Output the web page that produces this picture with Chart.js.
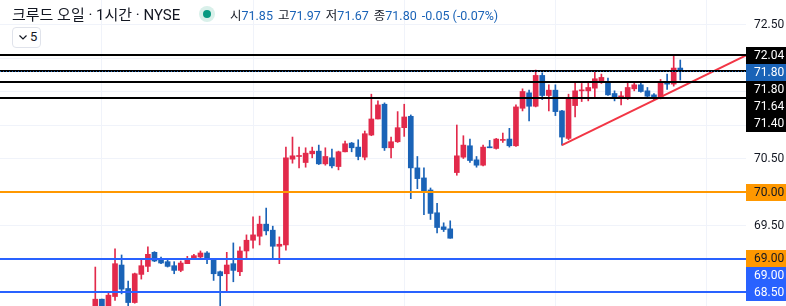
<!DOCTYPE html>
<html>
<head>
<meta charset="utf-8">
<script src="https://cdn.jsdelivr.net/npm/chart.js@4.4.1/dist/chart.umd.min.js"></script>
<style>
  html, body { margin: 0; padding: 0; background: #fff; }
  #wrap { position: relative; width: 786px; height: 306px; overflow: hidden; }
  canvas { display: block; }
  .hdr { position: absolute; top: 4px; white-space: nowrap; color: #131722; font-family: Roboto, 'Noto Sans CJK KR', sans-serif; }
  .title { left: 12px; top: 3px; font-size: 15px; }
  .dot { position: absolute; left: 199px; top: 6px; width: 16px; height: 16px; border-radius: 50%; background: #d9f0ea; }
  .dot::after { content: ''; position: absolute; left: 4px; top: 4px; width: 8px; height: 8px; border-radius: 50%; background: #089981; }
  .vals { left: 230px; top: 5px; font-size: 12.5px; }
  .vals b { font-weight: normal; color: #1a63b7; margin-right: 5px; }
  .intv { position: absolute; left: 12px; top: 27px; width: 27px; height: 19px; border: 1px solid #e0e3eb; border-radius: 4px; background: #fff; font: 13px Roboto, sans-serif; color: #131722; }
  .intv svg { position: absolute; left: 6px; top: 7px; }
  .intv span { position: absolute; left: 17px; top: 1px; }
</style>
</head>
<body>
<div id="wrap">
  <canvas id="c" width="786" height="306"></canvas>
  <div class="hdr title">크루드 오일 · 1시간 · NYSE</div>
  <div class="dot"></div>
  <div class="hdr vals">시<b>71.85</b>고<b>71.97</b>저<b>71.67</b>종<b>71.80</b><b>-0.05 (-0.07%)</b></div>
  <div class="intv"><svg width="8" height="5"><polyline points="0.5,0.5 4,4 7.5,0.5" fill="none" stroke="#131722" stroke-width="1.2"/></svg><span>5</span></div>
</div>
<script>
// hourly candles, oldest first
const opens  = [68.25, 68.40, 68.30, 68.44, 68.91, 68.56, 68.35, 68.77, 68.89, 69.10,
                69.00, 68.96, 68.90, 68.83, 68.93, 69.00, 69.03, 69.09, 69.00, 68.81,
                68.78, 68.93, 68.81, 69.12, 69.28, 69.34, 69.52, 69.43, 69.19, 69.21,
                70.49, 70.53, 70.44, 70.57, 70.61, 70.42, 70.51, 70.38, 70.60, 70.73,
                70.67, 70.52, 70.85, 71.09, 71.31, 70.66, 70.75, 70.96, 71.13, 70.36,
                70.21, 70.03, 69.69, 69.48, 69.45, 70.29, 70.52, 70.69, 70.48, 70.40,
                70.67, 70.65, 70.77, 70.79, 70.69, 71.25, 71.48, 71.28, 71.74, 71.44,
                71.52, 71.21, 70.80, 71.29, 71.51, 71.51, 71.55, 71.66, 71.64, 71.47,
                71.42, 71.42, 71.54, 71.60, 71.51, 71.45, 71.40, 71.65, 71.61, 71.85];
const highs  = [68.88, 68.40, 68.50, 69.15, 69.06, 68.67, 68.79, 69.00, 69.18, 69.11,
                69.03, 68.99, 68.96, 68.97, 69.04, 69.07, 69.12, 69.11, 69.01, 68.82,
                69.10, 69.24, 69.18, 69.36, 69.63, 69.64, 69.76, 69.49, 69.33, 70.67,
                70.82, 70.67, 70.66, 70.67, 70.70, 70.66, 70.64, 70.61, 70.76, 70.74,
                70.78, 70.91, 71.46, 71.36, 71.33, 70.82, 71.20, 71.31, 71.15, 70.53,
                70.36, 70.06, 69.83, 69.54, 69.57, 71.00, 70.84, 70.79, 70.53, 70.70,
                70.77, 70.80, 70.88, 70.95, 71.30, 71.54, 71.52, 71.82, 71.78, 71.60,
                71.60, 71.22, 71.46, 71.64, 71.62, 71.64, 71.81, 71.76, 71.70, 71.51,
                71.50, 71.64, 71.64, 71.64, 71.56, 71.47, 71.68, 71.76, 72.04, 71.97];
const lows   = [68.20, 68.20, 68.22, 68.38, 68.48, 68.30, 68.34, 68.70, 68.81, 68.96,
                68.93, 68.88, 68.78, 68.81, 68.93, 68.99, 69.02, 68.93, 68.68, 68.25,
                68.51, 68.66, 68.75, 69.00, 69.16, 69.21, 69.36, 69.01, 68.93, 69.13,
                70.43, 70.36, 70.37, 70.51, 70.41, 70.40, 70.36, 70.33, 70.60, 70.60,
                70.48, 70.48, 70.84, 71.09, 70.62, 70.51, 70.74, 70.83, 69.90, 70.05,
                69.66, 69.59, 69.39, 69.41, 69.31, 70.25, 70.50, 70.44, 70.37, 70.39,
                70.66, 70.64, 70.74, 70.67, 70.68, 71.21, 71.06, 71.27, 71.38, 71.21,
                71.14, 70.70, 70.78, 71.12, 71.35, 71.36, 71.42, 71.62, 71.44, 71.36,
                71.30, 71.38, 71.51, 71.49, 71.40, 71.37, 71.39, 71.53, 71.58, 71.67];
const closes = [68.40, 68.28, 68.46, 68.93, 68.55, 68.35, 68.78, 68.90, 69.07, 68.97,
                68.94, 68.89, 68.83, 68.94, 69.01, 69.05, 69.09, 69.00, 68.78, 68.75,
                68.91, 68.83, 69.12, 69.28, 69.36, 69.52, 69.42, 69.19, 69.22, 70.51,
                70.54, 70.54, 70.58, 70.61, 70.42, 70.53, 70.39, 70.60, 70.72, 70.66,
                70.53, 70.87, 71.09, 71.30, 70.66, 70.75, 70.96, 71.12, 70.36, 70.20,
                70.02, 69.68, 69.47, 69.44, 69.31, 70.54, 70.70, 70.47, 70.40, 70.67,
                70.66, 70.79, 70.78, 70.69, 71.27, 71.50, 71.28, 71.74, 71.44, 71.52,
                71.20, 70.82, 71.39, 71.51, 71.52, 71.56, 71.69, 71.71, 71.45, 71.41,
                71.43, 71.56, 71.60, 71.50, 71.43, 71.40, 71.64, 71.61, 71.85, 71.80];

const yTicks = [68.5, 69, 69.5, 70, 70.5, 71, 71.5, 72, 72.5];
const dayLines = [1, 24, 47, 70, 93];          // session separators (bar index)
const blackLevels = [72.04, 71.80, 71.64, 71.40];
const orangeLevels = [70.00, 69.00];
const blueLevels = [69.00, 68.50];
const trendX = [71, 99];
const trendY = [70.70, 72.04];

const UP = '#e22a4b', DOWN = '#1a63b7';
const BLACK = '#000000', ORANGE = '#ff9800', BLUE = '#2962ff';
const FONT = 'Roboto, "Noto Sans CJK KR", sans-serif';

const barColors = opens.map((o, i) => closes[i] >= o ? UP : DOWN);

const levelsPlugin = {
  id: 'levels',
  afterDatasetsDraw(chart) {
    const { ctx, chartArea: a, scales: { y } } = chart;
    ctx.save();
    function hline(v, color, w, dash) {
      const py = Math.round(y.getPixelForValue(v)) + (w % 2 ? 0.5 : 0);
      ctx.beginPath();
      ctx.setLineDash(dash || []);
      ctx.strokeStyle = color;
      ctx.lineWidth = w;
      ctx.moveTo(a.left, py);
      ctx.lineTo(a.right, py);
      ctx.stroke();
    }
    blackLevels.forEach(v => hline(v, BLACK, 2));
    orangeLevels.forEach(v => hline(v, ORANGE, 2));
    blueLevels.forEach(v => hline(v, BLUE, 2));
    hline(closes[closes.length - 1], DOWN, 1, [1, 2]);
    ctx.restore();
  },
  afterDraw(chart) {
    const { ctx, chartArea: a, scales: { y } } = chart;
    const last = closes[closes.length - 1];
    let labels = [{ v: last, bg: DOWN, fg: '#fff', p: 0 }];
    orangeLevels.forEach(v => labels.push({ v, bg: ORANGE, fg: '#131722', p: 1 }));
    blackLevels.forEach(v => labels.push({ v, bg: BLACK, fg: '#fff', p: 2 }));
    blueLevels.forEach(v => labels.push({ v, bg: BLUE, fg: '#fff', p: 3 }));
    labels.sort((m, n) => (n.v - m.v) || (m.p - n.p));
    const h = 17;
    let prev = -100;
    ctx.save();
    ctx.font = '12px ' + FONT;
    ctx.textBaseline = 'middle';
    labels.forEach(l => {
      const cy = Math.max(y.getPixelForValue(l.v), prev + h);
      prev = cy;
      ctx.fillStyle = l.bg;
      ctx.fillRect(a.right, Math.round(cy - h / 2), chart.width - a.right, h);
      ctx.fillStyle = l.fg;
      ctx.fillText(l.v.toFixed(2), a.right + 8, cy + 0.5);
    });
    ctx.restore();
  }
};

new Chart(document.getElementById('c'), {
  data: {
    datasets: [
      {
        type: 'line',
        data: trendX.map((x, i) => ({ x: x, y: trendY[i] })),
        borderColor: '#f23645',
        borderWidth: 2,
        pointRadius: 0,
        order: 0
      },
      {
        type: 'bar',
        data: opens.map((o, i) => ({ x: i, y: [o, closes[i]] })),
        backgroundColor: barColors,
        barThickness: 5,
        minBarLength: 1,
        grouped: false,
        order: 1
      },
      {
        type: 'bar',
        data: lows.map((l, i) => ({ x: i, y: [l, highs[i]] })),
        backgroundColor: barColors,
        barThickness: 1,
        grouped: false,
        order: 2
      }
    ]
  },
  options: {
    responsive: false,
    animation: false,
    devicePixelRatio: 1,
    layout: { padding: 0 },
    plugins: { legend: { display: false }, tooltip: { enabled: false } },
    scales: {
      x: {
        type: 'linear',
        offset: false,
        min: -14.5,
        max: 99,
        afterBuildTicks: s => { s.ticks = dayLines.map(v => ({ value: v })); },
        afterFit: s => { s.height = 0; s.paddingLeft = 0; s.paddingRight = 0; },
        ticks: { display: false },
        grid: { color: '#f0f3fa', drawTicks: false, offset: false },
        border: { display: false }
      },
      y: {
        position: 'right',
        min: 68.2985,
        max: 72.8657,
        afterBuildTicks: s => { s.ticks = yTicks.map(v => ({ value: v })); },
        afterFit: s => { s.width = 40; s.paddingTop = 0; s.paddingBottom = 0; },
        grid: { color: '#f0f3fa', drawTicks: false },
        border: { display: false },
        ticks: {
          color: '#131722',
          padding: 8,
          font: { size: 12, family: FONT },
          callback: v => v.toFixed(2)
        }
      }
    }
  },
  plugins: [levelsPlugin]
});
</script>
</body>
</html>
